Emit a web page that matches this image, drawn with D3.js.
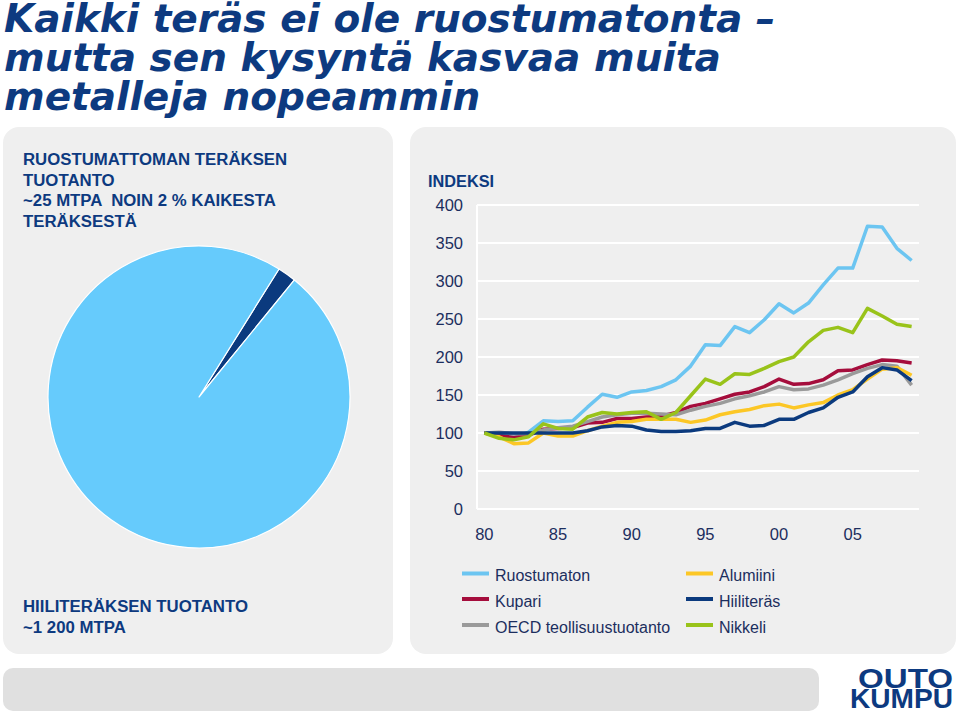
<!DOCTYPE html>
<html><head><meta charset="utf-8">
<script src="https://cdn.jsdelivr.net/npm/d3@7"></script>
<style>
html,body{margin:0;padding:0;background:#fff;}
svg{display:block;}
</style></head>
<body>
<svg id="chart" width="960" height="716"></svg>
<script>
// ---------- data ----------
const titleLines = ["Kaikki teräs ei ole ruostumatonta –", "mutta sen kysyntä kasvaa muita", "metalleja nopeammin"];
const pieLabels = ["Ruostumaton teräs", "Hiiliteräs"];
const pieValues = [2, 98];
const topTextLines = ["RUOSTUMATTOMAN TERÄKSEN", "TUOTANTO", "~25 MTPA  NOIN 2 % KAIKESTA", "TERÄKSESTÄ"];
const bottomTextLines = ["HIILITERÄKSEN TUOTANTO", "~1 200 MTPA"];

const years = [1980,1981,1982,1983,1984,1985,1986,1987,1988,1989,1990,1991,1992,1993,1994,
               1995,1996,1997,1998,1999,2000,2001,2002,2003,2004,2005,2006,2007,2008,2009];
const xTickYears = [1980,1985,1990,1995,2000,2005];
const xTickLabels = ["80","85","90","95","00","05"];
const yTicks = [0,50,100,150,200,250,300,350,400];

const ruostumaton = [100,98,94,101,116,115,116,134,151,147,154,156,161,170,188,216,215,240,232,249,270,258,271,295,317,317,372,371,343,327];
const kupari      = [100,97,94,97,105,106,107,113,114,119,119,121,122,127,135,139,145,151,154,161,171,164,165,170,182,183,190,196,195,192];
const oecd        = [100,101,99,99,104,107,109,115,121,124,126,126,125,124,130,135,139,145,149,154,161,157,158,163,170,178,185,190,188,163];
const alumiini    = [100,95,86,87,100,96,96,103,109,114,115,118,118,118,114,117,124,128,131,136,138,133,137,140,150,157,171,184,186,176];
const hiiliteras  = [100,100,100,100,100,100,100,103,108,110,109,104,102,102,103,106,106,114,109,110,118,118,127,133,147,154,174,186,183,169];
const nikkeli     = [100,93,91,95,112,106,105,121,127,125,127,128,118,127,149,171,164,178,177,185,194,200,220,235,239,232,264,254,243,240];

const seriesNames  = ["Ruostumaton","Kupari","OECD teollisuustuotanto","Alumiini","Hiiliteräs","Nikkeli"];
const seriesValues = [ruostumaton, kupari, oecd, alumiini, hiiliteras, nikkeli];
const seriesColors = ["#6cc5f1","#a50d3c","#9a9a9a","#fcc726","#0b3a7e","#99c31a"];
const logoLines = ["OUTO","KUMPU"];

// ---------- styles ----------
const navy = "#0d3a80";
const tickColor = "#1c2e5e";
const panelFill = "#efefef";

const svg = d3.select("#chart");

// panels
svg.append("rect").attr("x",3).attr("y",127).attr("width",390).attr("height",527).attr("rx",16).attr("fill",panelFill);
svg.append("rect").attr("x",410).attr("y",127).attr("width",546).attr("height",527).attr("rx",16).attr("fill",panelFill);
svg.append("rect").attr("x",3).attr("y",668).attr("width",816).attr("height",43).attr("rx",10).attr("fill","#e0e0e0");

// title (one text element, three lines)
svg.append("text")
  .attr("font-family","DejaVu Sans, Verdana, sans-serif")
  .attr("font-weight","bold").attr("font-style","italic")
  .attr("font-size",39).attr("fill",navy)
  .selectAll("tspan").data(titleLines).join("tspan")
  .attr("x",4).attr("y",(d,i)=>32+i*39).text(d=>d);

// panel texts
svg.append("text")
  .attr("font-family","Liberation Sans, Arial, sans-serif").attr("font-weight","bold")
  .attr("font-size",16.8).attr("fill",navy).style("white-space","pre")
  .selectAll("tspan").data(topTextLines).join("tspan")
  .attr("x",23).attr("y",(d,i)=>165+i*20.6).text(d=>d);
svg.append("text")
  .attr("font-family","Liberation Sans, Arial, sans-serif").attr("font-weight","bold")
  .attr("font-size",16.8).attr("fill",navy)
  .selectAll("tspan").data(bottomTextLines).join("tspan")
  .attr("x",23).attr("y",(d,i)=>612+i*20.6).text(d=>d);

// pie
const pie = d3.pie().sort(null).startAngle(32*Math.PI/180).endAngle(32*Math.PI/180 + 2*Math.PI);
const arc = d3.arc().innerRadius(0).outerRadius(151);
svg.append("g").attr("transform","translate(199,397)")
  .selectAll("path").data(pie(pieValues)).join("path")
  .attr("d",arc)
  .attr("fill",(d,i)=> i===0 ? "#0b3a7e" : "#66cbfc")
  .attr("stroke","#ffffff").attr("stroke-width",1.2).attr("stroke-linejoin","round");

// line chart
const x = d3.scaleBand().domain(years).range([477,919]);
const xc = d => x(d) + x.bandwidth()/2;
const y = d3.scaleLinear().domain([0,400]).range([509,205]);

const grid = svg.append("g");
grid.selectAll("line.h").data(yTicks).join("line").attr("class","h")
  .attr("x1",477).attr("x2",919).attr("y1",d=>y(d)).attr("y2",d=>y(d))
  .attr("stroke","#ffffff").attr("stroke-width",2);
grid.append("line").attr("x1",477).attr("x2",477).attr("y1",y(0)).attr("y2",y(400))
  .attr("stroke","#ffffff").attr("stroke-width",2);

const yAxis = d3.axisLeft(y).tickValues(yTicks).tickSize(0).tickPadding(0);
const yg = svg.append("g").attr("transform","translate(463,0)").call(yAxis);
yg.select(".domain").remove();
yg.selectAll("text").attr("font-family","Liberation Sans, Arial, sans-serif")
  .attr("font-size",16.5).attr("fill",tickColor).attr("dy","0.36em");

const xAxis = d3.axisBottom(x).tickValues(xTickYears).tickFormat((d,i)=>xTickLabels[i]).tickSize(0).tickPadding(0);
const xg = svg.append("g").attr("transform","translate(0,528)").call(xAxis);
xg.select(".domain").remove();
xg.selectAll("text").attr("font-family","Liberation Sans, Arial, sans-serif")
  .attr("font-size",16.5).attr("fill",tickColor).attr("dy","0.75em");

svg.append("text").attr("x",428).attr("y",187)
  .attr("font-family","Liberation Sans, Arial, sans-serif").attr("font-weight","bold")
  .attr("font-size",16.3).attr("fill",navy).text("INDEKSI");

const line = d3.line().x((d,i)=>xc(years[i])).y(d=>y(d)).curve(d3.curveLinear);
svg.append("g").selectAll("path").data(seriesValues).join("path")
  .attr("d",d=>line(d)).attr("fill","none")
  .attr("stroke",(d,i)=>seriesColors[i]).attr("stroke-width",3.5)
  .attr("stroke-linejoin","round").attr("stroke-linecap","butt");

// legend
const legendPos = [[462,573.5],[462,599],[462,625],[686,573.5],[686,599],[686,625]];
const lg = svg.append("g").selectAll("g").data(seriesNames).join("g")
  .attr("transform",(d,i)=>`translate(${legendPos[i][0]},${legendPos[i][1]})`);
lg.append("line").attr("x1",0).attr("x2",27).attr("y1",0).attr("y2",0)
  .attr("stroke",(d,i)=>seriesColors[i]).attr("stroke-width",4);
lg.append("text").attr("x",33).attr("y",7.5)
  .attr("font-family","Liberation Sans, Arial, sans-serif").attr("font-size",16)
  .attr("fill",tickColor).text(d=>d);

// logo (one text element, two lines)
svg.append("text").attr("font-family","Liberation Sans Narrow, Arial Narrow, Liberation Sans, sans-serif")
  .attr("font-weight","bold").attr("fill",navy).attr("font-size",28)
  .selectAll("tspan").data(logoLines).join("tspan")
  .attr("x",(d,i)=> i===0 ? 858 : 850).attr("y",(d,i)=>688+i*20)
  .attr("textLength",(d,i)=> i===0 ? 95 : 103).attr("lengthAdjust","spacingAndGlyphs")
  .text(d=>d);
</script>
</body></html>
